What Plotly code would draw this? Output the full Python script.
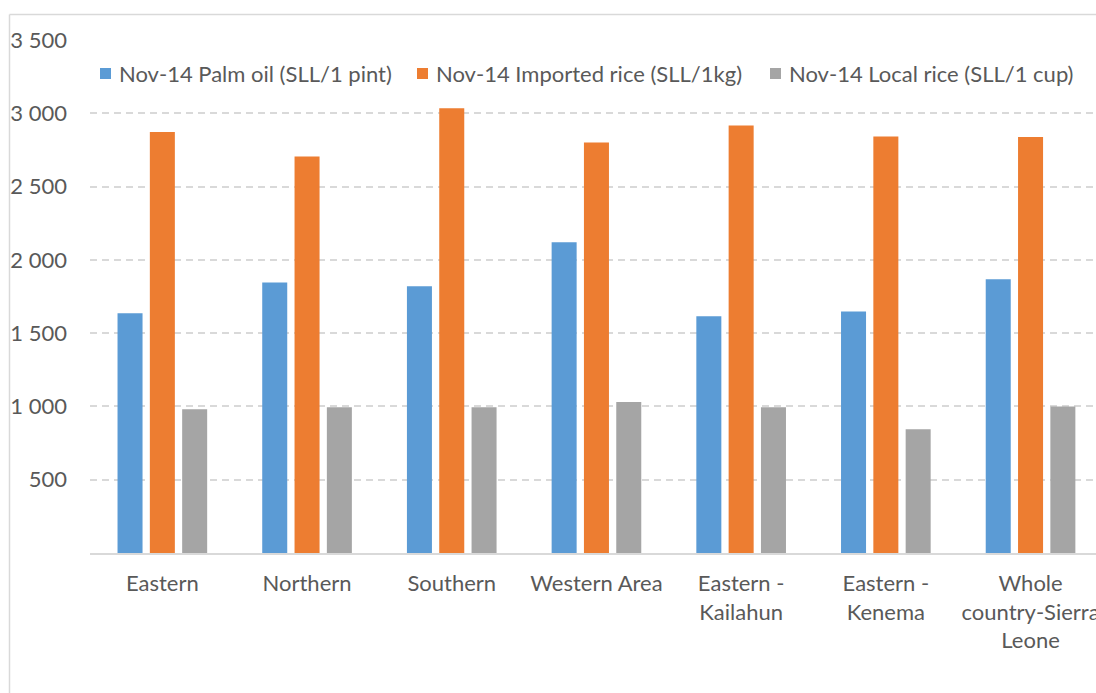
import plotly.graph_objects as go

categories = ["Eastern", "Northern", "Southern", "Western Area",
              "Eastern -<br>Kailahun", "Eastern -<br>Kenema",
              "Whole<br>country-Sierra<br>Leone"]
palm_oil = [1635, 1845, 1820, 2120, 1615, 1648, 1868]
imported_rice = [2872, 2705, 3034, 2800, 2916, 2842, 2838]
local_rice = [980, 995, 995, 1030, 995, 845, 1000]
series_names = ["Nov-14 Palm oil (SLL/1 pint)",
                "Nov-14 Imported rice (SLL/1kg)",
                "Nov-14 Local rice (SLL/1 cup)"]
y_tickvals = [500, 1000, 1500, 2000, 2500, 3000, 3500]
y_ticktext = ["500", "1 000", "1 500", "2 000", "2 500", "3 000", "3 500"]

colors = ["#5B9BD5", "#ED7D31", "#A5A5A5"]
FONT = "Lato"
TXT = "#595959"
FS = 22

fig = go.Figure()
for name, vals, c in zip(series_names, [palm_oil, imported_rice, local_rice], colors):
    fig.add_trace(go.Bar(x=categories, y=vals, name=name, marker_color=c,
                         marker_line_width=0, showlegend=False))

W, H = 1096, 693
L, R, T, B = 90, 0, 40, 140
pw = W - L - R
ph = H - T - B


def px_x(x):
    return (x - L) / pw


def px_y(y):
    return (H - B - y) / ph


shapes = [
    dict(type="line", xref="paper", yref="paper",
         x0=px_x(9.5), x1=px_x(9.5), y0=px_y(14.5), y1=px_y(H + 5),
         line=dict(color="#D9D9D9", width=1.5)),
    dict(type="line", xref="paper", yref="paper",
         x0=px_x(9.5), x1=px_x(W + 5), y0=px_y(14.5), y1=px_y(14.5),
         line=dict(color="#D9D9D9", width=1.5)),
]
annotations = []
# manual legend: swatch left edges and text left edges (pixels)
legend_sw_x = [100, 417, 770]
legend_tx_x = [117, 434, 787]
leg_y = 73.5
for name, c, sx, tx in zip(series_names, colors, legend_sw_x, legend_tx_x):
    shapes.append(dict(type="rect", xref="paper", yref="paper",
                       x0=px_x(sx), x1=px_x(sx + 11), y0=px_y(leg_y - 5.5), y1=px_y(leg_y + 5.5),
                       fillcolor=c, line=dict(width=0)))
    annotations.append(dict(text=name, xref="paper", yref="paper",
                            x=px_x(tx), y=px_y(leg_y), xanchor="left", yanchor="middle",
                            showarrow=False, font=dict(family=FONT, size=FS, color=TXT)))

fig.update_layout(
    width=W, height=H,
    margin=dict(l=L, r=R, t=T, b=B, autoexpand=False),
    paper_bgcolor="white", plot_bgcolor="white",
    font=dict(family=FONT, size=FS, color=TXT),
    barmode="group", bargap=0.33, bargroupgap=0.226,
    showlegend=False,
    xaxis=dict(range=[-0.5, -0.5 + pw / 144.7], showgrid=False,
               showline=True, linecolor="#D9D9D9", linewidth=1.5,
               ticks="", ticklabelstandoff=10,
               tickfont=dict(family=FONT, size=FS, color=TXT), fixedrange=True),
    yaxis=dict(range=[0, 3500], tickvals=y_tickvals, ticktext=y_ticktext,
               showgrid=True, gridcolor="#D9D9D9", gridwidth=1.5, griddash="7px,5px",
               zeroline=False, showline=False, ticks="", ticklabelstandoff=22,
               tickfont=dict(family=FONT, size=FS, color=TXT), fixedrange=True),
    shapes=shapes,
    annotations=annotations,
)

fig.write_html("out.html", config={"displayModeBar": False},
               post_script="document.body.style.margin='0';document.body.style.overflow='hidden';")
